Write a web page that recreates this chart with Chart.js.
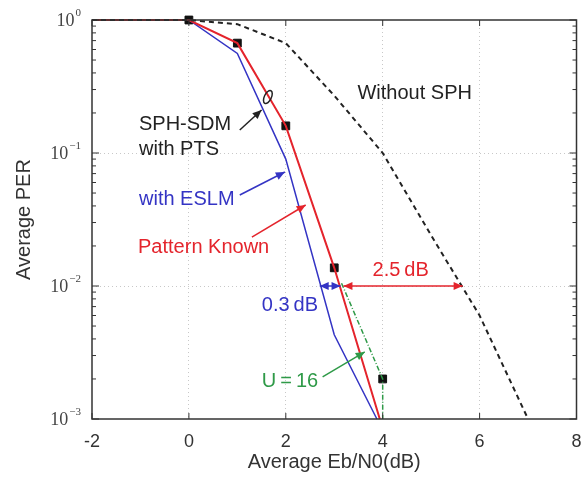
<!DOCTYPE html>
<html>
<head>
<meta charset="utf-8">
<script src="https://cdn.jsdelivr.net/npm/chart.js@4/dist/chart.umd.min.js"></script>
<style>
  body { margin: 0; background: #fff; }
</style>
</head>
<body>
<canvas id="perChart" width="583" height="480"></canvas>
<script>
// Eb/N0 (dB) and PER
const noSphX = [-2, 0, 1, 2, 3, 4, 5, 6, 7];
const noSphY = [1, 1, 0.93, 0.67, 0.27, 0.1, 0.024, 0.006, 0.001];

const eslmX = [-2, 0, 1, 2, 3, 3.88];
const eslmY = [1, 1, 0.56, 0.09, 0.0043, 0.001];

const knownX = [-2, 0, 1, 2, 3, 3.94];
const knownY = [1, 1, 0.67, 0.16, 0.0137, 0.001];

const ptsX = [0, 1, 2, 3, 4];
const ptsY = [1, 0.67, 0.16, 0.0137, 0.002];

const u16X = [3.15, 4, 4];
const u16Y = [0.0105, 0.002, 0.001];

const xTicks = [-2, 0, 2, 4, 6, 8];
const yDecades = [0, -1, -2, -3];

const BLUE = '#3434c4';
const RED = '#e4242c';
const GREEN = '#2f9a48';
const SANS = '"Liberation Sans", Arial, sans-serif';
const SERIF = '"Liberation Serif", "Times New Roman", serif';

const pts = (xs, ys) => xs.map((v, i) => ({x: v, y: ys[i]}));

// labels and arrows, placed in data units (x in dB, log10 of PER)
const labels = [
  {t: 'Without SPH', x: 4.66, ly: -0.549, c: '#222', align: 'center'},
  {t: 'SPH-SDM', x: -1.03, ly: -0.789, c: '#222'},
  {t: 'with PTS', x: -1.03, ly: -0.970, c: '#222'},
  {t: 'with ESLM', x: -1.03, ly: -1.346, c: BLUE},
  {t: 'Pattern Known', x: -1.05, ly: -1.714, c: RED},
  {t: '0.3\u2009dB', x: 1.505, ly: -2.143, c: BLUE},
  {t: '2.5\u2009dB', x: 3.79, ly: -1.88, c: RED},
  {t: 'U\u2009=\u200916', x: 1.505, ly: -2.72, c: GREEN}
];
const arrows = [
  {from: [1.05, -0.827], to: [1.50, -0.677], c: '#222'},
  {from: [1.05, -1.316], to: [1.98, -1.143], c: BLUE},
  {from: [1.30, -1.632], to: [2.41, -1.391], c: RED},
  {from: [2.76, -2.684], to: [3.63, -2.496], c: GREEN},
  {from: [2.70, -2], to: [3.13, -2], c: BLUE, both: true},
  {from: [3.19, -2], to: [5.65, -2], c: RED, both: true}
];

function head(ctx, x0, y0, x1, y1) {
  const ang = Math.atan2(y1 - y0, x1 - x0);
  const L = 9, W = 4;
  ctx.beginPath();
  ctx.moveTo(x1, y1);
  ctx.lineTo(x1 - L * Math.cos(ang) + W * Math.sin(ang), y1 - L * Math.sin(ang) - W * Math.cos(ang));
  ctx.lineTo(x1 - L * Math.cos(ang) - W * Math.sin(ang), y1 - L * Math.sin(ang) + W * Math.cos(ang));
  ctx.closePath();
  ctx.fill();
}

const decor = {
  id: 'decor',
  afterDraw(chart) {
    const {ctx, chartArea: a, scales: {x, y}} = chart;
    const P = (xv, ly) => [x.getPixelForValue(xv), y.getPixelForValue(Math.pow(10, ly))];
    ctx.save();

    // frame + ticks
    ctx.strokeStyle = '#333';
    ctx.lineWidth = 1.5;
    ctx.strokeRect(a.left, a.top, a.right - a.left, a.bottom - a.top);
    ctx.lineWidth = 1;
    ctx.beginPath();
    yDecades.forEach(d => {
      const py = y.getPixelForValue(Math.pow(10, d));
      ctx.moveTo(a.left, py); ctx.lineTo(a.left + 7, py);
      ctx.moveTo(a.right, py); ctx.lineTo(a.right - 7, py);
      if (d > -3) {
        for (let m = 2; m <= 9; m++) {
          const q = y.getPixelForValue(m * Math.pow(10, d - 1));
          ctx.moveTo(a.left, q); ctx.lineTo(a.left + 4, q);
          ctx.moveTo(a.right, q); ctx.lineTo(a.right - 4, q);
        }
      }
    });
    xTicks.forEach(v => {
      const px = x.getPixelForValue(v);
      ctx.moveTo(px, a.bottom); ctx.lineTo(px, a.bottom - 6);
      ctx.moveTo(px, a.top); ctx.lineTo(px, a.top + 6);
    });
    ctx.stroke();

    // y tick labels 10^k
    ctx.fillStyle = '#444';
    ctx.textBaseline = 'middle';
    yDecades.forEach(d => {
      const py = y.getPixelForValue(Math.pow(10, d));
      const exp = d === 0 ? '0' : '\u2212' + (-d);
      ctx.font = '11px ' + SERIF;
      const ew = ctx.measureText(exp).width;
      ctx.textAlign = 'left';
      ctx.fillText(exp, a.left - 11 - ew, py - 7);
      ctx.font = '18px ' + SERIF;
      ctx.textAlign = 'right';
      ctx.fillText('10', a.left - 12 - ew, py + 1);
    });

    // annotations
    ctx.font = '20px ' + SANS;
    labels.forEach(l => {
      const [px, py] = P(l.x, l.ly);
      ctx.fillStyle = l.c;
      ctx.textAlign = l.align || 'left';
      ctx.fillText(l.t, px, py);
    });
    ctx.lineWidth = 1.5;
    arrows.forEach(r => {
      const [x0, y0] = P(r.from[0], r.from[1]);
      const [x1, y1] = P(r.to[0], r.to[1]);
      ctx.strokeStyle = r.c;
      ctx.fillStyle = r.c;
      ctx.beginPath(); ctx.moveTo(x0, y0); ctx.lineTo(x1, y1); ctx.stroke();
      head(ctx, x0, y0, x1, y1);
      if (r.both) head(ctx, x1, y1, x0, y0);
    });
    // small ellipse grouping the PTS curves
    const [ex, ey] = P(1.63, -0.579);
    ctx.strokeStyle = '#222';
    ctx.beginPath();
    ctx.ellipse(ex, ey, 3.5, 7, 0.45, 0, Math.PI * 2);
    ctx.stroke();
    ctx.restore();
  }
};

const isDecade = v => Math.abs(Math.log10(v) - Math.round(Math.log10(v))) < 1e-6;

new Chart(document.getElementById('perChart'), {
  type: 'line',
  data: {
    datasets: [
      {
        label: 'Without SPH',
        data: pts(noSphX, noSphY),
        borderColor: '#222',
        borderWidth: 2,
        borderDash: [5, 4],
        pointRadius: 0,
        clip: 4
      },
      {
        label: 'Pattern Known',
        data: pts(knownX, knownY),
        borderColor: RED,
        borderWidth: 2,
        pointRadius: 0,
        clip: 4
      },
      {
        label: 'U = 16',
        data: pts(u16X, u16Y),
        borderColor: GREEN,
        borderWidth: 1.5,
        borderDash: [5, 2, 1, 2],
        pointRadius: 0,
        clip: 4
      },
      {
        label: 'with ESLM',
        data: pts(eslmX, eslmY),
        borderColor: BLUE,
        borderWidth: 1.5,
        pointRadius: 0,
        clip: 4
      },
      {
        label: 'with PTS',
        data: pts(ptsX, ptsY),
        showLine: false,
        pointStyle: 'rect',
        pointRadius: 5.5,
        backgroundColor: '#111',
        borderColor: '#111',
        borderWidth: 1,
        clip: 8
      }
    ]
  },
  options: {
    responsive: false,
    animation: false,
    layout: { padding: { top: 20, right: 6, left: 0, bottom: 0 } },
    plugins: {
      legend: { display: false },
      tooltip: { enabled: false }
    },
    scales: {
      x: {
        type: 'linear',
        min: -2,
        max: 8,
        afterFit: s => { s.height = 61; s.paddingLeft = 0; s.paddingRight = 0; },
        afterBuildTicks: s => { s.ticks = xTicks.map(v => ({value: v})); },
        grid: {
          color: c => (c.tick && (c.tick.value === -2 || c.tick.value === 8)) ? 'rgba(0,0,0,0)' : '#c8c8c8',
          lineWidth: 1,
          drawTicks: false
        },
        border: { display: false, dash: [1, 3] },
        ticks: {
          padding: 12,
          color: '#333',
          font: { family: SANS, size: 18 }
        },
        title: {
          display: true,
          text: 'Average Eb/N0(dB)',
          color: '#333',
          font: { family: SANS, size: 20 },
          padding: { top: 0, bottom: 6 }
        }
      },
      y: {
        type: 'logarithmic',
        min: 0.001,
        max: 1,
        afterFit: s => { s.width = 92; s.paddingTop = 0; s.paddingBottom = 0; },
        grid: {
          color: c => (c.tick && isDecade(c.tick.value) && c.tick.value > 0.0011 && c.tick.value < 0.9) ? '#c8c8c8' : 'rgba(0,0,0,0)',
          lineWidth: 1,
          drawTicks: false
        },
        border: { display: false, dash: [1, 3] },
        ticks: { display: false },
        title: {
          display: true,
          text: 'Average PER',
          color: '#333',
          font: { family: SANS, size: 20 },
          padding: { top: 12, bottom: 0 }
        }
      }
    }
  },
  plugins: [decor]
});
</script>
</body>
</html>
